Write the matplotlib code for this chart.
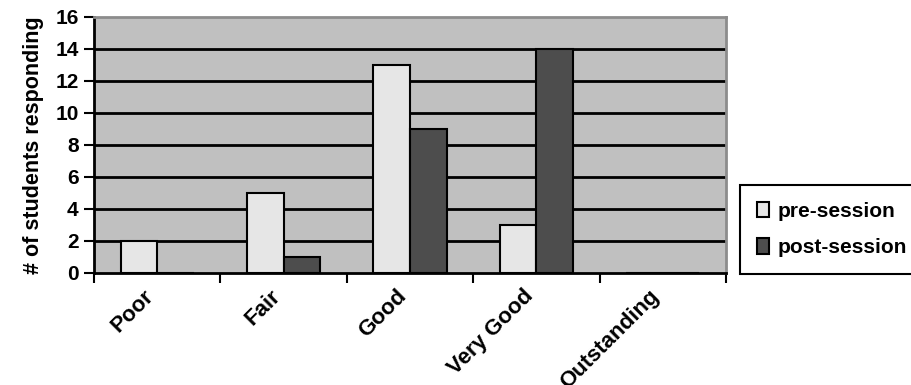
import numpy as np
import matplotlib
matplotlib.use("Agg")
import matplotlib.pyplot as plt
import matplotlib.transforms as mtransforms
from matplotlib.patches import Patch

# Ratings before and after the session
CATEGORIES = ["Poor", "Fair", "Good", "Very Good", "Outstanding"]
PRE = [2, 5, 13, 3, 0]
POST = [0, 1, 9, 14, 0]
Y_TICKS = [0, 2, 4, 6, 8, 10, 12, 14, 16]

PRE_COLOR = "#e6e6e6"
POST_COLOR = "#4d4d4d"
BG_COLOR = "#c0c0c0"

plt.rcParams["font.family"] = ["Liberation Sans", "DejaVu Sans"]
plt.rcParams["font.weight"] = "bold"

fig = plt.figure(figsize=(9.12, 3.85), dpi=100)
ax = fig.add_axes([94 / 912, 1 - 273 / 385, (726 - 94) / 912, (273 - 17) / 385])
ax.set_facecolor(BG_COLOR)

x = np.arange(len(CATEGORIES))
w = 0.29
ax.bar(x - w / 2, PRE, w, color=PRE_COLOR, edgecolor="black", linewidth=1.5, zorder=3)
ax.bar(x + w / 2, POST, w, color=POST_COLOR, edgecolor="black", linewidth=1.5, zorder=3)

ax.set_xlim(-0.5, len(CATEGORIES) - 0.5)
ax.set_ylim(0, 16)
ax.set_yticks(Y_TICKS)
for y in Y_TICKS[1:-1]:
    ax.axhline(y, color="black", linewidth=2, zorder=1)

# labels sit at category centres, ticks at category boundaries
ax.set_xticks(x)
ax.set_xticklabels(CATEGORIES, rotation=45, ha="right", va="top",
                   rotation_mode="anchor")
ax.set_xticks(np.arange(-0.5, len(CATEGORIES)), minor=True)
ax.tick_params(axis="x", which="major", length=0, pad=9, labelsize=16)
ax.tick_params(axis="x", which="minor", length=7, width=1.5, direction="out")
ax.tick_params(axis="y", length=7, width=1.5, pad=4, labelsize=15)

shift = mtransforms.ScaledTranslation(-14 / 100, 0, fig.dpi_scale_trans)
for lbl in ax.get_xticklabels():
    lbl.set_fontweight("bold")
    lbl.set_transform(lbl.get_transform() + shift)
for lbl in ax.get_yticklabels():
    lbl.set_fontweight("bold")

ax.spines["left"].set_linewidth(2)
ax.spines["bottom"].set_linewidth(2)
ax.spines["top"].set_color("#8c8c8c")
ax.spines["right"].set_color("#8c8c8c")
ax.spines["top"].set_linewidth(2)
ax.spines["right"].set_linewidth(2)

ax.set_ylabel("# of students responding", fontsize=15.5, fontweight="bold", labelpad=8)

handles = [Patch(facecolor=PRE_COLOR, edgecolor="black", linewidth=1.5),
           Patch(facecolor=POST_COLOR, edgecolor="black", linewidth=1.5)]
leg = fig.legend(handles, ["pre-session", "post-session"],
                 loc="upper left", bbox_to_anchor=(740 / 912, 1 - 185 / 385),
                 prop={"size": 15, "weight": "bold"}, fancybox=False,
                 framealpha=1, edgecolor="black", handlelength=0.6,
                 handleheight=0.75, handletextpad=0.4, labelspacing=0.85,
                 borderpad=0.8, borderaxespad=0)
leg.get_frame().set_linewidth(1.5)

fig.savefig("out.png", dpi=100)
